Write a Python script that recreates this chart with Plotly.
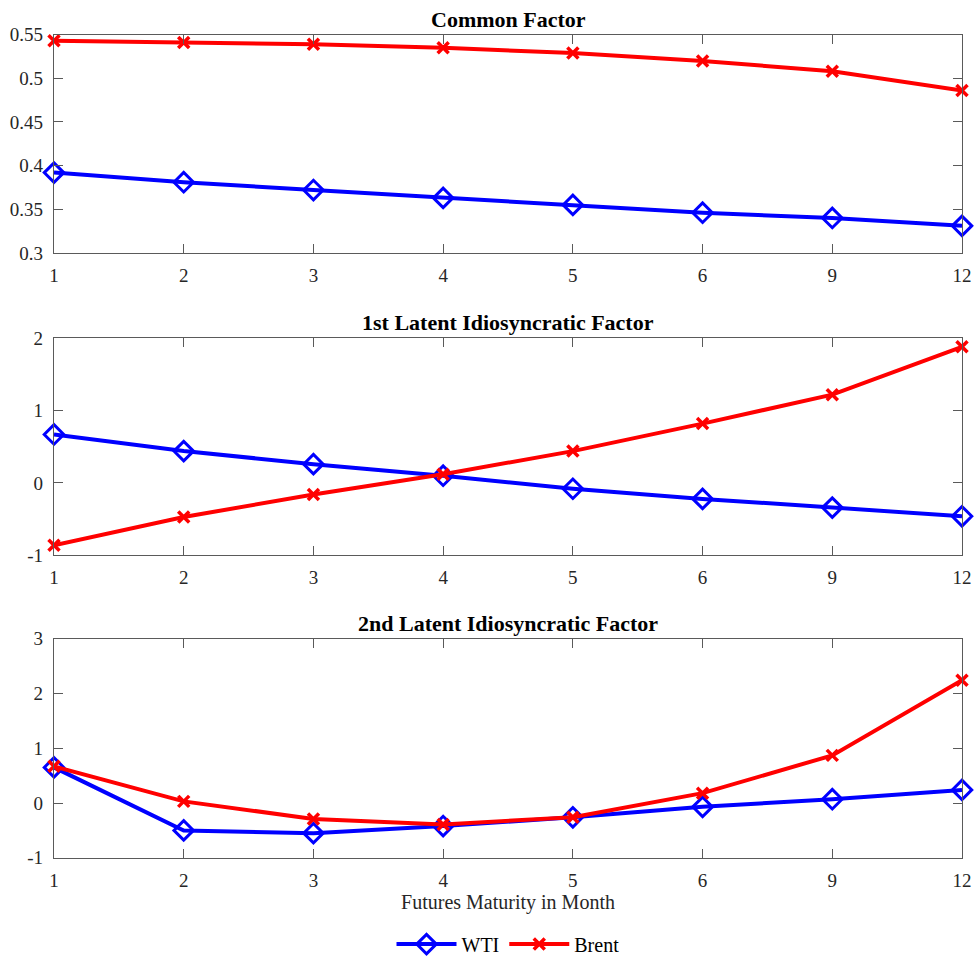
import plotly.graph_objects as go

maturities = ["1", "2", "3", "4", "5", "6", "9", "12"]

common_wti = [0.392, 0.381, 0.372, 0.363, 0.355, 0.346, 0.340, 0.331]
common_brent = [0.543, 0.541, 0.539, 0.535, 0.529, 0.520, 0.508, 0.486]

latent1_wti = [0.67, 0.44, 0.26, 0.10, -0.08, -0.22, -0.34, -0.46]
latent1_brent = [-0.86, -0.47, -0.16, 0.12, 0.44, 0.82, 1.22, 1.88]

latent2_wti = [0.65, -0.50, -0.55, -0.42, -0.26, -0.07, 0.07, 0.24]
latent2_brent = [0.67, 0.03, -0.29, -0.39, -0.26, 0.18, 0.87, 2.24]

titles = ["Common Factor", "1st Latent Idiosyncratic Factor", "2nd Latent Idiosyncratic Factor"]

y1_ticks = [0.3, 0.35, 0.4, 0.45, 0.5, 0.55]
y1_text = ["0.3", "0.35", "0.4", "0.45", "0.5", "0.55"]
y2_ticks = [-1, 0, 1, 2]
y2_text = ["-1", "0", "1", "2"]
y3_ticks = [-1, 0, 1, 2, 3]
y3_text = ["-1", "0", "1", "2", "3"]

W, H = 974, 964
FONT = "Liberation Serif"
BLUE = "#0000ff"
RED = "#ff0000"
AX = "#262626"
LINE = "#5a5a5a"

panels = [
    (common_wti, common_brent, y1_ticks, y1_text, [0.3, 0.55], (35, 255)),
    (latent1_wti, latent1_brent, y2_ticks, y2_text, [-1, 2], (341, 560)),
    (latent2_wti, latent2_brent, y3_ticks, y3_text, [-1, 3], (644, 865)),
]

fig = go.Figure()
annotations = []
for i, (wti, brent, tv, tt, yr, (top, bot)) in enumerate(panels):
    n = "" if i == 0 else str(i + 1)
    show = i == 0
    fig.add_trace(go.Scatter(
        x=maturities, y=wti, name="WTI", mode="lines+markers",
        line=dict(color=BLUE, width=4),
        marker=dict(symbol="diamond-open", size=15, color=BLUE, line=dict(width=3, color=BLUE)),
        xaxis="x" + n, yaxis="y" + n, showlegend=show, cliponaxis=False,
    ))
    fig.add_trace(go.Scatter(
        x=maturities, y=brent, name="Brent", mode="lines+markers",
        line=dict(color=RED, width=4),
        marker=dict(symbol="x-thin", size=11, color=RED, line=dict(width=3.5, color=RED)),
        xaxis="x" + n, yaxis="y" + n, showlegend=show, cliponaxis=False,
    ))
    dom = [1 - bot / H, 1 - top / H]
    common_ax = dict(
        showline=True, linecolor=LINE, linewidth=1.3, mirror="ticks",
        ticks="inside", ticklen=9, tickcolor=LINE, tickwidth=1.2,
        showgrid=False, zeroline=False, automargin=False,
        tickfont=dict(family=FONT, size=19, color=AX),
    )
    fig.layout["xaxis" + n] = dict(
        common_ax, domain=[0, 1], anchor="y" + n, type="category",
        range=[0, len(maturities) - 1], ticklabelstandoff=5,
        title=dict(text="Futures Maturity in Month", font=dict(family=FONT, size=20, color=AX), standoff=5) if i == 2 else None,
    )
    fig.layout["yaxis" + n] = dict(
        common_ax, domain=dom, anchor="x" + n, range=yr,
        tickvals=tv, ticktext=tt, ticklabelstandoff=6,
    )
    annotations.append(dict(
        text="<b>" + titles[i] + "</b>", x=0.5, xref="paper",
        y=dom[1], yref="paper", yanchor="bottom", yshift=1,
        showarrow=False, font=dict(family=FONT, size=22, color="#000000"),
    ))

fig.update_layout(
    width=W, height=H,
    margin=dict(l=54, r=12, t=0, b=0),
    paper_bgcolor="white", plot_bgcolor="white",
    annotations=annotations,
    font=dict(family=FONT, size=19, color=AX),
    legend=dict(orientation="h", x=0.5, xanchor="center", y=1 - 952 / H, yanchor="middle",
                font=dict(family=FONT, size=20, color="#000000"), itemwidth=60,
                tracegroupgap=0, bgcolor="rgba(0,0,0,0)"),
)

# make the page exactly the size of the figure: no default body margin, no overflow
page_css = (
    "document.documentElement.style.margin='0';"
    "document.documentElement.style.overflow='hidden';"
    "document.body.style.margin='0';"
    "document.body.style.overflow='hidden';"
    "document.body.style.height='964px';"
    "var gd=document.getElementById('{plot_id}'); gd.style.overflow='hidden';"
    "if (gd.parentElement) { gd.parentElement.style.height='964px'; gd.parentElement.style.overflow='hidden'; }"
)
fig.write_html("out.html", config={"displayModeBar": False}, post_script=page_css)
